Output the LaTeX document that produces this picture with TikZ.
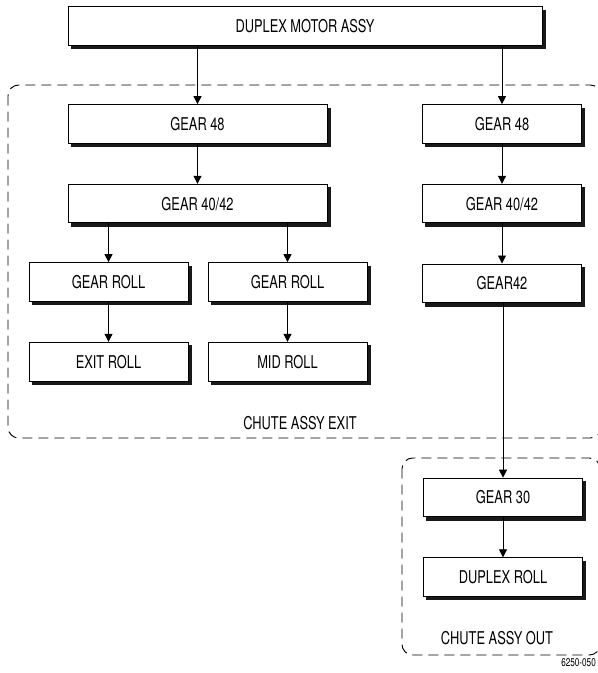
\documentclass[tikz,border=0pt]{standalone}
\usepackage{fontspec}
\setmainfont{TeX Gyre Heros}[FakeStretch=0.73]
\usetikzlibrary{positioning, arrows.meta}

\begin{document}
\begin{tikzpicture}[x=0.75pt, y=-0.75pt,
      font=\fontsize{13.2}{15}\selectfont,
      box/.style={draw=black, fill=white, line width=0.75pt, minimum width=119.25pt,
                  minimum height=29pt, inner sep=0pt},
      big/.style={minimum width=194.25pt},
      sdw/.style={black!90, line width=2.6pt},
      grp/.style={draw=black, line width=0.7pt, dash pattern=on 7.5pt off 4.5pt,
                  rounded corners=8pt},
      lbl/.style={inner sep=0pt},
      arr/.style={-{Triangle[length=6pt, width=6pt]}, line width=0.6pt},
      node distance=30pt and 14.25pt]
    \useasboundingbox (0,0) rectangle (598,673);
    % groups
    \draw[grp] (8,85) rectangle (601,438);
    \draw[grp] (402,458) rectangle (600,655);
    \node[lbl] (exitlbl) at (300,423) {CHUTE ASSY EXIT};
    \node[lbl] (outlbl)  at (497,638) {CHUTE ASSY OUT};
    \node[lbl, anchor=west, font=\fontsize{8.4}{10}\selectfont] (figno) at (561,663) {6250-050};
    % boxes
    \node[box, minimum width=355.5pt] (motor) at (305,26) {DUPLEX MOTOR ASSY};
    \node[box, big] (g48a) at (197.5,124) {GEAR 48};
    \node[box, big, below=of g48a] (g40a) {GEAR 40/42};
    \node[box] (grolla) at (108.5,282) {GEAR ROLL};
    \node[box, right=of grolla] (grollb) {GEAR ROLL};
    \node[box, below=of grolla] (exitr) {EXIT ROLL};
    \node[box, below=of grollb] (midr) {MID ROLL};
    \node[box] (g48b) at (502,124) {GEAR 48};
    \node[box, below=of g48b] (g40b) {GEAR 40/42};
    \node[box, below=of g40b] (g42) {GEAR42};
    \node[box] (g30) at (503,497.5) {GEAR 30};
    \node[box, below=of g30] (duproll) {DUPLEX ROLL};
    % shadows
    \foreach \bx in {motor, g48a, g40a, grolla, grollb, exitr, midr,
                     g48b, g40b, g42, g30, duproll}{
      \draw[sdw] ([xshift=2.6pt, yshift=-1.3pt]\bx.south west)
        -- ([xshift=1.3pt, yshift=-1.3pt]\bx.south east)
        -- ([xshift=1.3pt, yshift=-2.6pt]\bx.north east);
    }
    % drive train
    \draw[arr] (motor.south -| g48a) -- (g48a);
    \draw[arr] (motor.south -| g48b) -- (g48b);
    \draw[arr] (g48a) -- (g40a);
    \draw[arr] (g40a.south -| grolla) -- (grolla);
    \draw[arr] (g40a.south -| grollb) -- (grollb);
    \draw[arr] (grolla) -- (exitr);
    \draw[arr] (grollb) -- (midr);
    \draw[arr] (g48b) -- (g40b);
    \draw[arr] (g40b) -- (g42);
    \draw[arr] (g42.south -| g30) -- (g30);
    \draw[arr] (g30) -- (duproll);
  \end{tikzpicture}
\end{document}
